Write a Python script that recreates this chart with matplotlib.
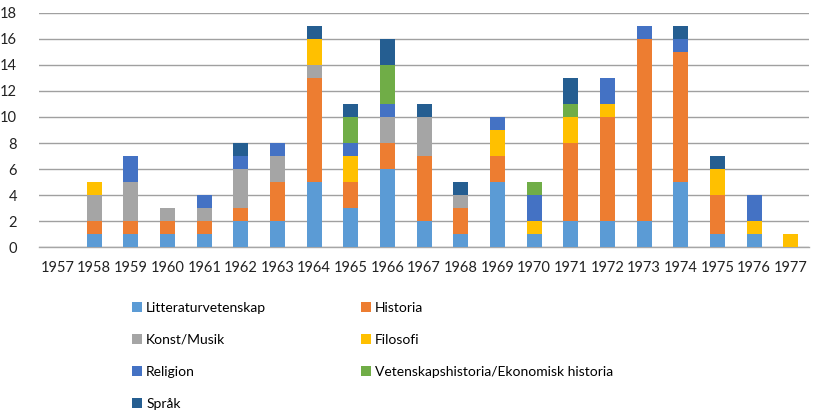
import matplotlib.pyplot as plt
import numpy as np

plt.rcParams['font.family'] = ['Lato', 'DejaVu Sans']

years = [str(y) for y in range(1957, 1978)]

# värden per år 1957..1977
litteratur = [0, 1, 1, 1, 1, 2, 2, 5, 3, 6, 2, 1, 5, 1, 2, 2, 2, 5, 1, 1, 0]
historia = [0, 1, 1, 1, 1, 1, 3, 8, 2, 2, 5, 2, 2, 0, 6, 8, 14, 10, 3, 0, 0]
konst = [0, 2, 3, 1, 1, 3, 2, 1, 0, 2, 3, 1, 0, 0, 0, 0, 0, 0, 0, 0, 0]
filosofi = [0, 1, 0, 0, 0, 0, 0, 2, 2, 0, 0, 0, 2, 1, 2, 1, 0, 0, 2, 1, 1]
religion = [0, 0, 2, 0, 1, 1, 1, 0, 1, 1, 0, 0, 1, 2, 0, 2, 1, 1, 0, 2, 0]
vetenskap = [0, 0, 0, 0, 0, 0, 0, 0, 2, 3, 0, 0, 0, 1, 1, 0, 0, 0, 0, 0, 0]
sprak = [0, 0, 0, 0, 0, 1, 0, 1, 1, 2, 1, 1, 0, 0, 2, 0, 0, 1, 1, 0, 0]

series = [
    ("Litteraturvetenskap", litteratur, "#5B9BD5"),
    ("Historia", historia, "#ED7D31"),
    ("Konst/Musik", konst, "#A5A5A5"),
    ("Filosofi", filosofi, "#FFC000"),
    ("Religion", religion, "#4472C4"),
    ("Vetenskapshistoria/Ekonomisk historia", vetenskap, "#70AD47"),
    ("Språk", sprak, "#255E91"),
]

fig = plt.figure(figsize=(8.18, 4.12), dpi=100)
ax = fig.add_axes([0.048, 0.40, 0.941, 0.569])

x = np.arange(len(years))
bottom = np.zeros(len(years))
handles = {}
for name, vals, col in series:
    vals = np.array(vals, dtype=float)
    b = ax.bar(x, vals, 0.41, bottom=bottom, color=col, label=name, zorder=3)
    handles[name] = b
    bottom += vals

ax.set_xlim(-0.5, len(years) - 0.5)
ax.set_ylim(0, 18)
ax.set_yticks(range(0, 19, 2))
ax.set_xticks(x)
ax.set_xticklabels(years)
ax.tick_params(axis='both', length=0, labelsize=10.5, colors='#222222')
ax.tick_params(axis='x', pad=10)
ax.tick_params(axis='y', pad=16)
ax.grid(axis='y', color='#a0a0a0', linewidth=1, zorder=0)
for s in ['top', 'right', 'left']:
    ax.spines[s].set_visible(False)
ax.spines['bottom'].set_color('#a6a6a6')
ax.spines['bottom'].set_linewidth(1)

# radvis ordning som i originalet (två kolumner)
order = ["Litteraturvetenskap", "Konst/Musik", "Religion", "Språk",
         "Historia", "Filosofi", "Vetenskapshistoria/Ekonomisk historia"]
fig.legend([handles[n] for n in order], order, ncol=2, loc='upper left',
           bbox_to_anchor=(0.155, 0.281), frameon=False, fontsize=10,
           handlelength=0.7, handleheight=0.7, handletextpad=0.3,
           columnspacing=6.8, labelspacing=1.45, borderaxespad=0)

fig.savefig("out.png", dpi=100)
